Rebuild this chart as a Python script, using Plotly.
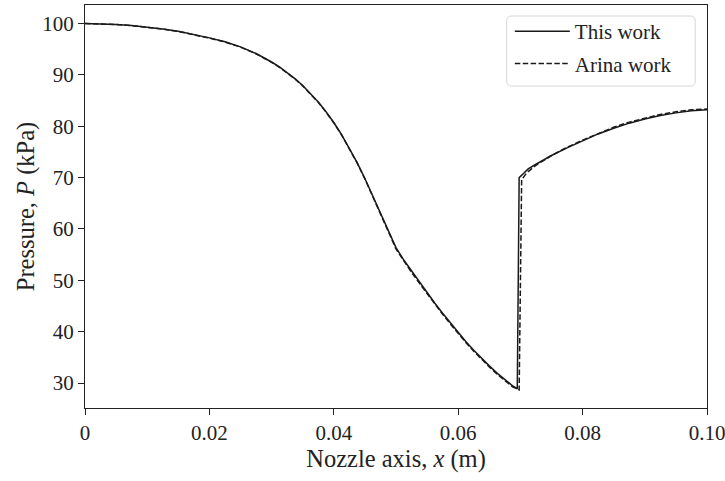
import plotly.graph_objects as go

# This work
x_this = [0.0, 0.0025, 0.005, 0.0075, 0.01, 0.0125, 0.015, 0.0175, 0.02, 0.0225, 0.025,
          0.0275, 0.02875, 0.03, 0.03125, 0.0325, 0.03375, 0.035, 0.03625, 0.0375, 0.03875,
          0.04, 0.04125, 0.0425, 0.04375, 0.045, 0.04625, 0.0475, 0.04875, 0.05,
          0.05125, 0.0525, 0.05375, 0.055, 0.05625, 0.0575, 0.05875, 0.06, 0.06125,
          0.0625, 0.06375, 0.065, 0.06625, 0.0675, 0.06875, 0.0695,
          0.0698, 0.0705, 0.07125, 0.0725, 0.075, 0.0775, 0.08, 0.0825,
          0.085, 0.0875, 0.09, 0.0925, 0.095, 0.0975, 0.1]
p_this = [100.0, 99.95, 99.8, 99.6, 99.3, 98.95, 98.5, 97.9, 97.2, 96.45, 95.45,
          94.15, 93.38, 92.5, 91.55, 90.48, 89.28, 87.93, 86.43, 84.73, 82.83,
          80.73, 78.38, 75.78, 72.93, 69.83, 66.53, 63.13, 59.73, 56.38,
          53.95, 51.8, 49.65, 47.6, 45.55, 43.6, 41.7, 39.85, 38.05,
          36.4, 34.8, 33.35, 31.95, 30.65, 29.45, 28.9,
          70.0, 70.8, 71.7, 72.6, 74.3, 75.8, 77.2, 78.5,
          79.6, 80.6, 81.4, 82.1, 82.6, 83.0, 83.2]

# Arina work
x_arina = [0.0, 0.0025, 0.005, 0.0075, 0.01, 0.0125, 0.015, 0.0175, 0.02, 0.0225, 0.025,
           0.0275, 0.02875, 0.03, 0.03125, 0.0325, 0.03375, 0.035, 0.03625, 0.0375, 0.03875,
           0.04, 0.04125, 0.0425, 0.04375, 0.045, 0.04625, 0.0475, 0.04875, 0.05,
           0.05125, 0.0525, 0.05375, 0.055, 0.05625, 0.0575, 0.05875, 0.06, 0.06125,
           0.0625, 0.06375, 0.065, 0.06625, 0.0675, 0.06875, 0.0698,
           0.0702, 0.071, 0.0725, 0.075, 0.0775, 0.08, 0.0825,
           0.085, 0.0875, 0.09, 0.0925, 0.095, 0.0975, 0.1]
p_arina = [100.0, 99.95, 99.8, 99.6, 99.3, 98.9, 98.45, 97.85, 97.15, 96.4, 95.4,
           94.1, 93.32, 92.44, 91.48, 90.4, 89.2, 87.85, 86.35, 84.65, 82.75,
           80.65, 78.3, 75.7, 72.85, 69.75, 66.45, 63.0, 59.55, 56.1,
           53.7, 51.55, 49.45, 47.4, 45.35, 43.4, 41.5, 39.65, 37.85,
           36.2, 34.6, 33.15, 31.75, 30.45, 29.25, 28.7,
           69.6, 70.9, 72.4, 74.3, 75.9, 77.3, 78.6,
           79.8, 80.8, 81.6, 82.3, 82.8, 83.2, 83.35]

x_ticks = [0, 0.02, 0.04, 0.06, 0.08, 0.10]
x_tick_labels = ["0", "0.02", "0.04", "0.06", "0.08", "0.10"]
y_ticks = [30, 40, 50, 60, 70, 80, 90, 100]

fig = go.Figure()
fig.add_trace(go.Scatter(x=x_this, y=p_this, mode="lines", name="This work",
                         legendgroup="a",
                         line=dict(color="#1a1a1a", width=1.5)))
fig.add_trace(go.Scatter(x=x_arina, y=p_arina, mode="lines", name="Arina work",
                         legendgroup="b",
                         line=dict(color="#1a1a1a", width=1.5, dash="5.5px,2.4px")))

font = "Liberation Serif, Times New Roman, serif"
axis_common = dict(showline=True, linecolor="#222", linewidth=1, mirror=True,
                   ticks="outside", ticklen=6, tickcolor="#222", showgrid=False,
                   zeroline=False, automargin=False, ticklabeloverflow="allow",
                   tickfont=dict(family=font, size=21, color="#222"))

fig.update_layout(
    width=725, height=481,
    margin=dict(l=85, r=18, t=5, b=73),
    plot_bgcolor="white", paper_bgcolor="white",
    font=dict(family=font, color="#222"),
    xaxis=dict(range=[0, 0.1], tickvals=x_ticks, ticktext=x_tick_labels,
               title=dict(text="Nozzle axis, <i>x</i> (m)", font=dict(family=font, size=24.5),
                          standoff=1),
               **axis_common),
    yaxis=dict(range=[25.15, 103.6], tickvals=y_ticks,
               title=dict(text="Pressure, <i>P</i> (kPa)", font=dict(family=font, size=24.5),
                          standoff=0),
               **axis_common),
    legend=dict(x=0.683, y=0.985, xanchor="left", yanchor="top",
                bgcolor="rgba(0,0,0,0)", borderwidth=0,
                font=dict(family=font, size=21, color="#222"),
                itemwidth=55, tracegroupgap=2),
    showlegend=True,
)

# rounded legend frame (matplotlib style)
x0, x1, y0, y1, r = 0.678, 0.981, 0.799, 0.9727, 0.008
ry = r * 622 / 403
fig.add_shape(type="path", xref="paper", yref="paper", layer="below",
              path=(f"M {x0+r},{y0} L {x1-r},{y0} Q {x1},{y0} {x1},{y0+ry} "
                    f"L {x1},{y1-ry} Q {x1},{y1} {x1-r},{y1} L {x0+r},{y1} "
                    f"Q {x0},{y1} {x0},{y1-ry} L {x0},{y0+ry} Q {x0},{y0} {x0+r},{y0} Z"),
              line=dict(color="#d6d6d6", width=1), fillcolor="white")

fig.write_html("out.html", config={"displayModeBar": False},
               post_script="document.body.style.margin='0';")
